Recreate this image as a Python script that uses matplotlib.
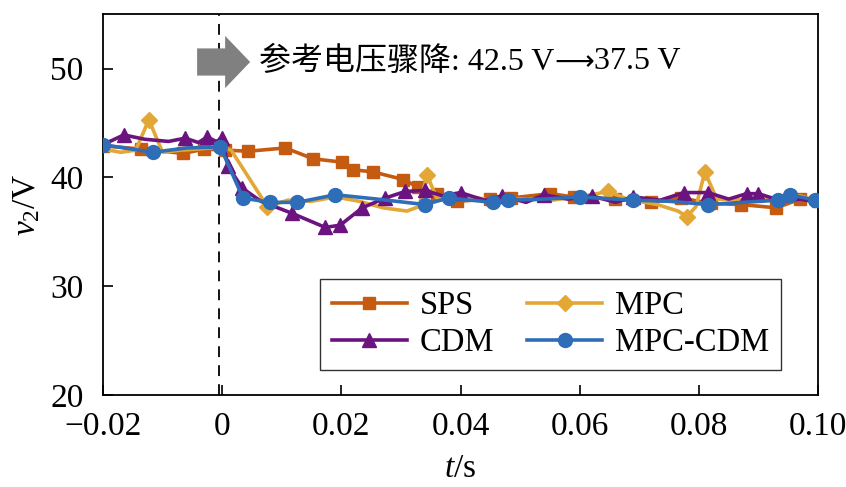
import matplotlib

matplotlib.use("Agg")

import matplotlib.pyplot as plt
from matplotlib.patches import FancyArrow
from matplotlib.ticker import FixedLocator, FuncFormatter

plt.rcParams["font.family"] = ["Liberation Serif", "Noto Sans CJK SC"]
plt.rcParams["mathtext.fontset"] = "custom"
plt.rcParams["mathtext.rm"] = "Liberation Serif"
plt.rcParams["mathtext.it"] = "Liberation Serif:italic"

# --- data (t in s, v2 in V) ---
sps_t = [-0.02, -0.0136, -0.0065, -0.003, 0.0005, 0.0044, 0.0106, 0.0153,
         0.0201, 0.022, 0.0253, 0.0304, 0.0329, 0.036, 0.0394, 0.045, 0.0485,
         0.055, 0.059, 0.066, 0.072, 0.077, 0.082, 0.087, 0.093, 0.097, 0.10]
sps_v = [42.9, 42.6, 42.2, 42.6, 42.5, 42.4, 42.7, 41.7,
         41.4, 40.7, 40.5, 39.8, 39.1, 38.5, 37.8, 38.0, 38.1,
         38.5, 38.2, 38.0, 37.7, 38.1, 37.6, 37.5, 37.2, 38.0, 37.8]
sps_marks = list(range(len(sps_t)))

mpc_t = [-0.02, -0.017, -0.0145, -0.0123, -0.010, -0.007, -0.004, 0.0,
         0.0015, 0.0076, 0.011, 0.015, 0.019, 0.023, 0.027, 0.031, 0.033,
         0.0344, 0.036, 0.040, 0.045, 0.050, 0.055, 0.060, 0.0648, 0.068,
         0.073, 0.0765, 0.078, 0.0795, 0.081, 0.083, 0.088, 0.093, 0.097, 0.10]
mpc_v = [42.6, 42.3, 42.5, 45.3, 42.3, 42.5, 42.6, 42.8,
         42.5, 37.3, 37.9, 37.8, 38.2, 37.8, 37.2, 36.9, 37.3,
         40.2, 38.1, 38.4, 37.9, 38.0, 37.9, 38.2, 38.7, 38.0,
         37.5, 36.9, 36.4, 37.3, 40.5, 38.0, 37.9, 38.0, 38.3, 37.8]
mpc_marks = [3, 9, 17, 24, 28, 30]

cdm_t = [-0.02, -0.0165, -0.013, -0.009, -0.0062, -0.004, -0.0025, -0.001,
         0.0, 0.001, 0.0034, 0.0065, 0.0117, 0.0173, 0.0198, 0.0235, 0.0274,
         0.0307, 0.034, 0.037, 0.040, 0.044, 0.047, 0.051, 0.054, 0.058,
         0.062, 0.066, 0.069, 0.0735, 0.0775, 0.0815, 0.085, 0.088, 0.090,
         0.094, 0.097, 0.10]
cdm_v = [43.0, 43.9, 43.5, 43.3, 43.6, 43.2, 43.7, 43.3,
         43.6, 41.0, 39.0, 37.8, 36.7, 35.4, 35.6, 37.2, 38.1,
         38.7, 38.8, 38.3, 38.6, 37.9, 38.3, 37.7, 38.4, 38.0,
         38.3, 37.7, 38.2, 37.9, 38.6, 38.6, 38.0, 38.5, 38.5,
         37.8, 38.0, 37.7]
cdm_marks = [1, 4, 6, 8, 9, 10, 12, 13, 14, 15, 16, 17, 18, 20, 22, 24,
             26, 28, 30, 31, 33, 34]

mc_t = [-0.02, -0.0116, -0.006, -0.0003, 0.0035, 0.008, 0.0126, 0.019,
        0.026, 0.034, 0.038, 0.0455, 0.048, 0.054, 0.060, 0.069, 0.075,
        0.0815, 0.0933, 0.0953, 0.0995]
mc_v = [43.0, 42.3, 42.7, 42.8, 38.1, 37.7, 37.7, 38.4,
        38.0, 37.5, 38.1, 37.7, 37.9, 38.0, 38.2, 37.9, 37.8,
        37.5, 37.9, 38.4, 37.9]
mc_marks = [0, 1, 3, 4, 5, 6, 7, 9, 10, 11, 12, 14, 15, 17, 18, 19, 20]

x_ticks = [-0.02, 0, 0.02, 0.04, 0.06, 0.08, 0.10]
x_tick_labels = ["\u22120.02", "0", "0.02", "0.04", "0.06", "0.08", "0.10"]
y_ticks = [20, 30, 40, 50]

c_sps = "#C55A11"
c_mpc = "#E2A735"
c_cdm = "#6B1480"
c_mc = "#2E6DB7"

fig = plt.figure(figsize=(8.46, 4.87), dpi=100)
ax = fig.add_axes([0.1217, 0.189, 0.8453, 0.782])

ax.axvline(-0.0005, color="black", linestyle=(0, (6, 4.5)), linewidth=1.3, zorder=1)

lw = 2.6
ax.plot(sps_t, sps_v, color=c_sps, lw=lw, marker="s", ms=8.5,
        markevery=sps_marks, label="SPS", zorder=3)
ax.plot(mpc_t, mpc_v, color=c_mpc, lw=lw, marker="D", ms=8.5,
        markevery=mpc_marks, label="MPC", zorder=4)
ax.plot(cdm_t, cdm_v, color=c_cdm, lw=lw, marker="^", ms=10,
        markevery=cdm_marks, label="CDM", zorder=5)
ax.plot(mc_t, mc_v, color=c_mc, lw=lw, marker="o", ms=10,
        markevery=mc_marks, label="MPC-CDM", zorder=6)

# legend order: SPS, CDM | MPC, MPC-CDM
h, lab = ax.get_legend_handles_labels()
order = [0, 2, 1, 3]
leg = ax.legend([h[i] for i in order], [lab[i] for i in order], ncol=2,
                loc="lower right", bbox_to_anchor=(0.948, 0.066),
                fontsize=23.5, frameon=True, fancybox=False, edgecolor="black",
                handlelength=2.3, columnspacing=1.0, handletextpad=0.4,
                labelspacing=0.2, borderpad=0.35, borderaxespad=0)
leg.get_frame().set_linewidth(1.0)

ax.set_xlim(-0.02, 0.10)
ax.set_ylim(20, 55)
ax.xaxis.set_major_locator(FixedLocator(x_ticks))
ax.xaxis.set_major_formatter(FuncFormatter(lambda v, p: x_tick_labels[p]))
ax.set_yticks(y_ticks)
ax.tick_params(direction="in", length=7, width=1.2, labelsize=24)
ax.tick_params(axis="x", pad=12)
ax.tick_params(axis="y", pad=14)
ax.tick_params(top=False, right=False)
for s in ax.spines.values():
    s.set_linewidth(1.3)

ax.set_xlabel("$t$/s", fontsize=24, labelpad=8)
ax.set_ylabel("$v_2$/V", fontsize=24, labelpad=6)

# step annotation: grey block arrow + text, long arrow glyph from DejaVu
ax.add_patch(FancyArrow(-0.0042, 50.6, 0.0089, 0, width=2.5, head_width=4.8,
                        head_length=0.0042, length_includes_head=True,
                        color="#808080", lw=0, zorder=7))
part1 = ax.text(0.0062, 50.6, "参考电压骤降: 42.5 V", fontsize=23,
                va="center", ha="left", zorder=7)

fig.canvas.draw()
r = fig.canvas.get_renderer()
inv = ax.transData.inverted()
x_end = inv.transform((part1.get_window_extent(r).x1, 0))[0]
arrow_txt = ax.text(x_end, 50.6, "\u27f6", fontsize=20, va="center", ha="left",
                    family="DejaVu Sans", zorder=7)
x_end2 = inv.transform((arrow_txt.get_window_extent(r).x1, 0))[0]
ax.text(x_end2, 50.6, "37.5 V", fontsize=23, va="center", ha="left", zorder=7)

fig.savefig("out.png", dpi=100, facecolor="white")
